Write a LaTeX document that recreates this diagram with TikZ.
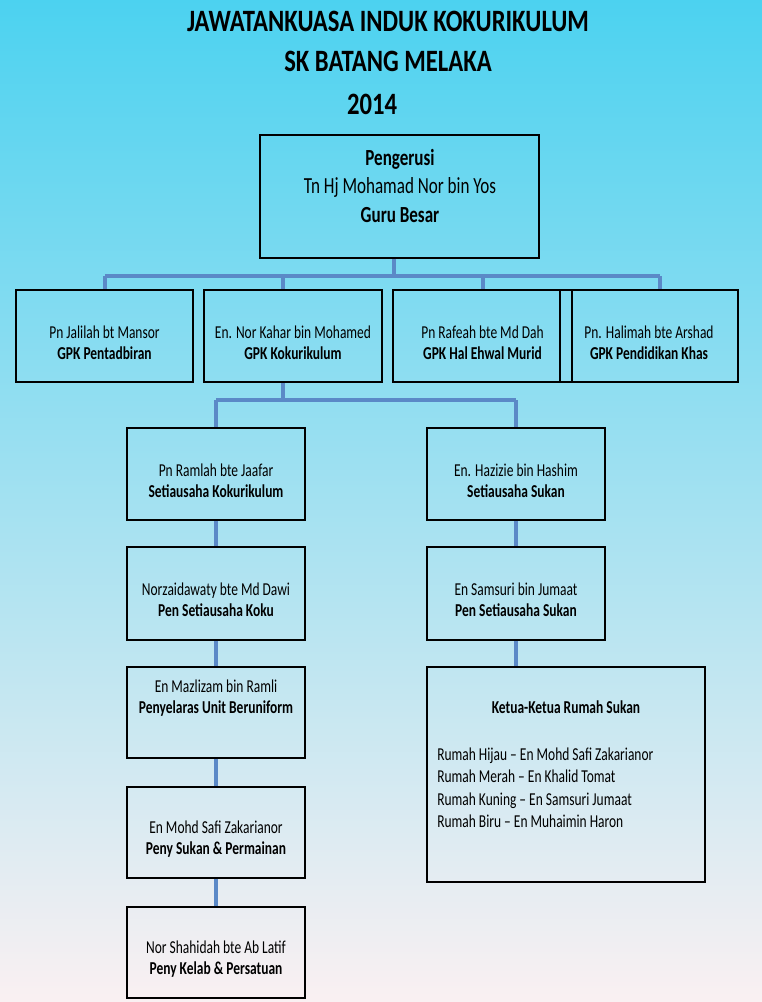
\documentclass[tikz,border=0pt]{standalone}
\usepackage{fontspec}
\setmainfont{Carlito}
\usepackage{graphicx}
\usetikzlibrary{positioning}
\definecolor{skytop}{RGB}{76,210,240}
\definecolor{pinkbot}{RGB}{250,240,242}
\definecolor{linkblue}{RGB}{91,137,199}
\newcommand{\tallt}[2][1.35]{\scalebox{1}[#1]{#2}}
\newcommand{\two}[2]{\rule{0pt}{19pt}\tallt{#1}\\\tallt{\bfseries #2}}
\tikzset{
  box/.style={draw=black, line width=1.3pt, inner sep=0pt, minimum width=133.5pt,
    minimum height=69pt, align=center, font=\fontsize{10.1}{15.75}\selectfont},
  ttl/.style={anchor=base, inner sep=0pt, font=\fontsize{18.5}{22}\selectfont\bfseries},
  item/.style={anchor=base west, inner sep=0pt, font=\fontsize{10.1}{15}\selectfont},
  bus/.style={draw=linkblue, line width=3.6pt},
  drop/.style={draw=linkblue, line width=2.6pt}
}
\begin{document}
\begin{tikzpicture}[x=0.75pt,y=-0.75pt]
\useasboundingbox (0,0) rectangle (762,1002);
\shade[top color=skytop, bottom color=pinkbot] (0,0) rectangle (762,1002);

\node[ttl] (t1) at (388,32) {\tallt[1.26]{JAWATANKUASA INDUK KOKURIKULUM}};
\node[ttl] (t2) at (388,72) {\tallt[1.26]{SK BATANG MELAKA}};
\node[ttl] (t3) at (372,115) {\tallt[1.26]{2014}};

\node[box, minimum width=209.25pt, minimum height=92.25pt] (gurubesar) at (399.5,196.5) {};
\node[align=center, inner sep=0pt, font=\fontsize{12.8}{21.5}\selectfont] (gbtext) at (400,186)
  {\tallt{\bfseries Pengerusi}\\\tallt{Tn Hj Mohamad Nor bin Yos}\\\tallt{\bfseries Guru Besar}};

\node[box, minimum width=132.75pt] (gpktadbir) at (104.5,336) {\two{Pn Jalilah bt Mansor}{GPK Pentadbiran}};
\node[box] (gpkkoku) at (293,336) {\two{En. Nor Kahar bin Mohamed}{GPK Kokurikulum}};
\node[box, minimum width=134.25pt] (gpkhem) at (482.5,336) {\two{Pn Rafeah bte Md Dah}{GPK Hal Ehwal Murid}};
\node[box] (gpkkhas) at (649,336) {\two{Pn. Halimah bte Arshad}{GPK Pendidikan Khas}};

\node[box] (sukoku) at (216,474) {\two{Pn Ramlah bte Jaafar}{Setiausaha Kokurikulum}};
\node[box, minimum height=69.75pt] (pensukoku) at (216,593.5) {\two{Norzaidawaty bte Md Dawi}{Pen Setiausaha Koku}};
\node[box, minimum height=68.25pt] (uniform) at (216,712.5) {};
\node[align=center, inner sep=0pt, font=\fontsize{10.1}{15.75}\selectfont] (uniformtext) at (216,698)
  {\tallt{En Mazlizam bin Ramli}\\\tallt{\bfseries Penyelaras Unit Beruniform}};
\node[box, minimum height=68.25pt] (sukanmain) at (216,832.5) {\two{En Mohd Safi Zakarianor}{Peny Sukan \& Permainan}};
\node[box, minimum height=68.25pt] (kelab) at (216,952.5) {\two{Nor Shahidah bte Ab Latif}{Peny Kelab \& Persatuan}};

\node[box] (susukan) at (516,474) {\two{En. Hazizie bin Hashim}{Setiausaha Sukan}};
\node[box, minimum height=69.75pt] (pensukan) at (516,593.5) {\two{En Samsuri bin Jumaat}{Pen Setiausaha Sukan}};
\node[box, minimum width=208.5pt, minimum height=161.25pt] (rumah) at (566,774.5) {};
\node[ttl, font=\fontsize{10.1}{15}\selectfont\bfseries] (rumahtitle) at (566,713) {\tallt{Ketua-Ketua Rumah Sukan}};
\foreach \txt [count=\i from 0] in {Rumah Hijau – En Mohd Safi Zakarianor, Rumah Merah – En Khalid Tomat,
    Rumah Kuning – En Samsuri Jumaat, Rumah Biru – En Muhaimin Haron}
  \node[item] (ketua\i) at (437,{760+22.5*\i}) {\tallt{\txt}};

\coordinate (busL) at (105,276);
\coordinate (busR) at (660,276);
\draw[drop] (gurubesar.south -| 394,0) -- (394,276);
\draw[bus] (busL) -- (busR);
\foreach \n/\x in {gpktadbir/105, gpkkoku/283, gpkhem/483, gpkkhas/660}
  \draw[drop] (\x,276) -- (\n.north -| \x,0);

\coordinate (kokuL) at (216,400);
\coordinate (kokuR) at (516,400);
\draw[drop] (gpkkoku.south -| 283,0) -- (283,400);
\draw[bus] (kokuL) -- (kokuR);
\draw[drop] (kokuL) -- (sukoku.north);
\draw[drop] (kokuR) -- (susukan.north);

\foreach \a/\b in {sukoku/pensukoku, pensukoku/uniform, uniform/sukanmain, sukanmain/kelab, susukan/pensukan}
  \draw[drop] (\a.south) -- (\b.north);
\draw[drop] (pensukan.south) -- (pensukan.south |- rumah.north);
\end{tikzpicture}
\end{document}
